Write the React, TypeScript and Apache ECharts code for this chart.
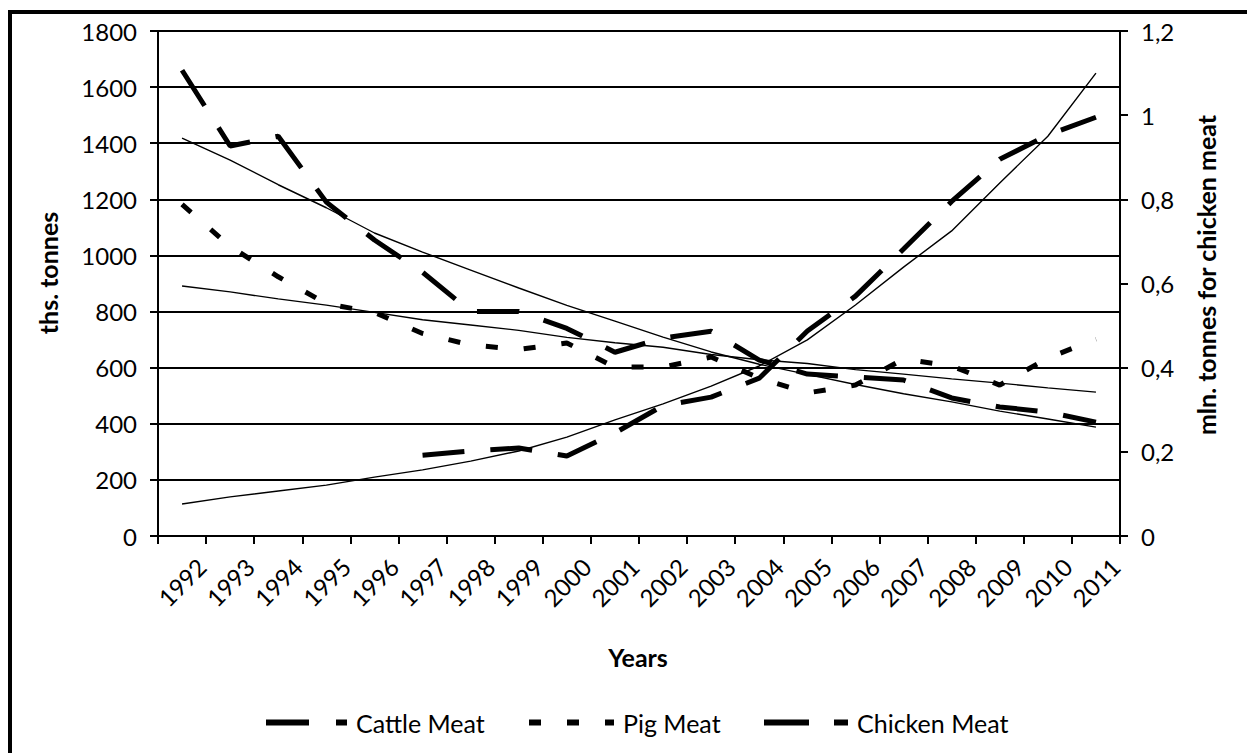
import React, { useEffect, useRef } from "react";
import * as echarts from "echarts";

const years = ["1992","1993","1994","1995","1996","1997","1998","1999","2000","2001","2002","2003","2004","2005","2006","2007","2008","2009","2010","2011"];

const cattleMeat = [1660,1390,1425,1190,1055,940,800,800,740,655,706,730,627,577,567,556,492,460,442,406];
const pigMeat = [1182,1032,924,828,797,722,681,665,688,602,602,638,563,510,538,631,606,538,634,702];
const chickenMeat = [null,null,null,null,null,0.192,0.202,0.209,0.19,0.245,0.31,0.33,0.375,0.487,0.57,0.682,0.795,0.895,0.953,0.995];

const cattleTrend = [1418,1340,1252,1170,1080,1012,948,884,822,766,709,656,612,576,540,507,478,445,417,388];
const pigTrend = [891,870,845,823,797,771,752,733,708,689,673,647,628,615,593,577,560,545,528,513];
const chickenTrend = [0.076,0.093,0.107,0.121,0.14,0.157,0.178,0.202,0.235,0.276,0.314,0.356,0.404,0.466,0.549,0.639,0.725,0.839,0.95,1.1];

const leftTicks = { min: 0, max: 1800, interval: 200 };
const rightTicks = { min: 0, max: 1.2, interval: 0.2 };

const FONT = "Lato";

export default function App() {
  const ref = useRef<HTMLDivElement>(null);
  useEffect(() => {
    if (!ref.current) return;
    const chart = echarts.init(ref.current, undefined, { renderer: "svg" });
    const black = "#000";
    const longDash = [42, 26];
    const shortDash = [12, 26];
    const legendBase = {
      top: 705,
      itemHeight: 6,
      textStyle: { fontFamily: FONT, fontSize: 25, color: black, padding: [0, 0, 0, 4] },
      selectedMode: false,
    };
    const titleStyle = { fontFamily: FONT, fontSize: 25, fontWeight: "bold", fill: black, align: "center", verticalAlign: "middle" };
    const option: any = {
      animation: false,
      backgroundColor: "#fff",
      textStyle: { fontFamily: FONT },
      grid: { left: 158, right: 127, top: 31, bottom: 217, containLabel: false },
      xAxis: {
        type: "category",
        data: years,
        boundaryGap: true,
        axisLine: { lineStyle: { color: black, width: 2 } },
        axisTick: { show: true, length: 8, interval: 0, lineStyle: { color: black, width: 2 } },
        axisLabel: {
          rotate: 45,
          interval: 0,
          fontSize: 24,
          color: black,
          margin: 46,
          align: "center",
          verticalAlign: "middle",
          fontFamily: FONT,
        },
        splitLine: { show: false },
      },
      yAxis: [
        {
          type: "value",
          ...leftTicks,
          axisLine: { show: true, lineStyle: { color: black, width: 2 } },
          axisTick: { show: true, length: 8, lineStyle: { color: black, width: 2 } },
          axisLabel: { fontSize: 24, color: black, margin: 21, fontFamily: FONT, formatter: (v: number) => String(v) },
          splitLine: { show: true, lineStyle: { color: black, width: 2 } },
        },
        {
          type: "value",
          position: "right",
          ...rightTicks,
          axisLine: { show: true, lineStyle: { color: black, width: 2 } },
          axisTick: { show: true, length: 8, lineStyle: { color: black, width: 2 } },
          axisLabel: {
            fontSize: 24,
            color: black,
            margin: 21,
            fontFamily: FONT,
            formatter: (v: number) => String(Number(v.toFixed(1))).replace(".", ","),
          },
          splitLine: { show: false },
        },
      ],
      legend: [
        {
          ...legendBase,
          left: 261,
          itemWidth: 81,
          data: [{ name: "Cattle Meat", icon: "path://M0 0H43V6H0Z M70 0H81V6H70Z" }],
        },
        {
          ...legendBase,
          left: 524,
          itemWidth: 85,
          data: [{ name: "Pig Meat", icon: "path://M0 0H12V6H0Z M38 0H50V6H38Z M76 0H85V6H76Z" }],
        },
        {
          ...legendBase,
          left: 759,
          itemWidth: 84,
          data: [{ name: "Chicken Meat", icon: "path://M0 0H45V6H0Z M70 0H84V6H70Z" }],
        },
      ],
      graphic: [
        {
          type: "rect",
          silent: true,
          z: 100,
          shape: { x: 10, y: 12, width: 1300, height: 800 },
          style: { fill: "none", stroke: black, lineWidth: 4 },
        },
        { type: "text", x: 48, y: 273, rotation: Math.PI / 2, style: { text: "ths. tonnes", ...titleStyle } },
        { type: "text", x: 1206, y: 275, rotation: Math.PI / 2, style: { text: "mln. tonnes for chicken meat", ...titleStyle } },
        { type: "text", x: 638, y: 657, style: { text: "Years", ...titleStyle } },
      ],
      series: [
        {
          name: "Cattle Meat",
          type: "line",
          data: cattleMeat,
          symbol: "none",
          lineStyle: { color: black, width: 5, type: longDash, cap: "butt" },
          itemStyle: { color: black },
          z: 3,
        },
        {
          name: "Pig Meat",
          type: "line",
          data: pigMeat,
          symbol: "none",
          lineStyle: { color: black, width: 5, type: shortDash, cap: "butt" },
          itemStyle: { color: black },
          z: 3,
        },
        {
          name: "Chicken Meat",
          type: "line",
          yAxisIndex: 1,
          data: chickenMeat,
          symbol: "none",
          connectNulls: false,
          lineStyle: { color: black, width: 5, type: longDash, cap: "butt" },
          itemStyle: { color: black },
          z: 3,
        },
        { name: "Cattle trend", type: "line", data: cattleTrend, symbol: "none", lineStyle: { color: black, width: 1.4 }, z: 2 },
        { name: "Pig trend", type: "line", data: pigTrend, symbol: "none", lineStyle: { color: black, width: 1.4 }, z: 2 },
        { name: "Chicken trend", type: "line", yAxisIndex: 1, data: chickenTrend, symbol: "none", lineStyle: { color: black, width: 1.4 }, z: 2 },
      ],
    };
    chart.setOption(option);
    return () => chart.dispose();
  }, []);
  return (
    <div
      ref={ref}
      style={{ position: "fixed", left: 0, top: 0, width: 1247, height: 753, background: "#fff" }}
    />
  );
}
